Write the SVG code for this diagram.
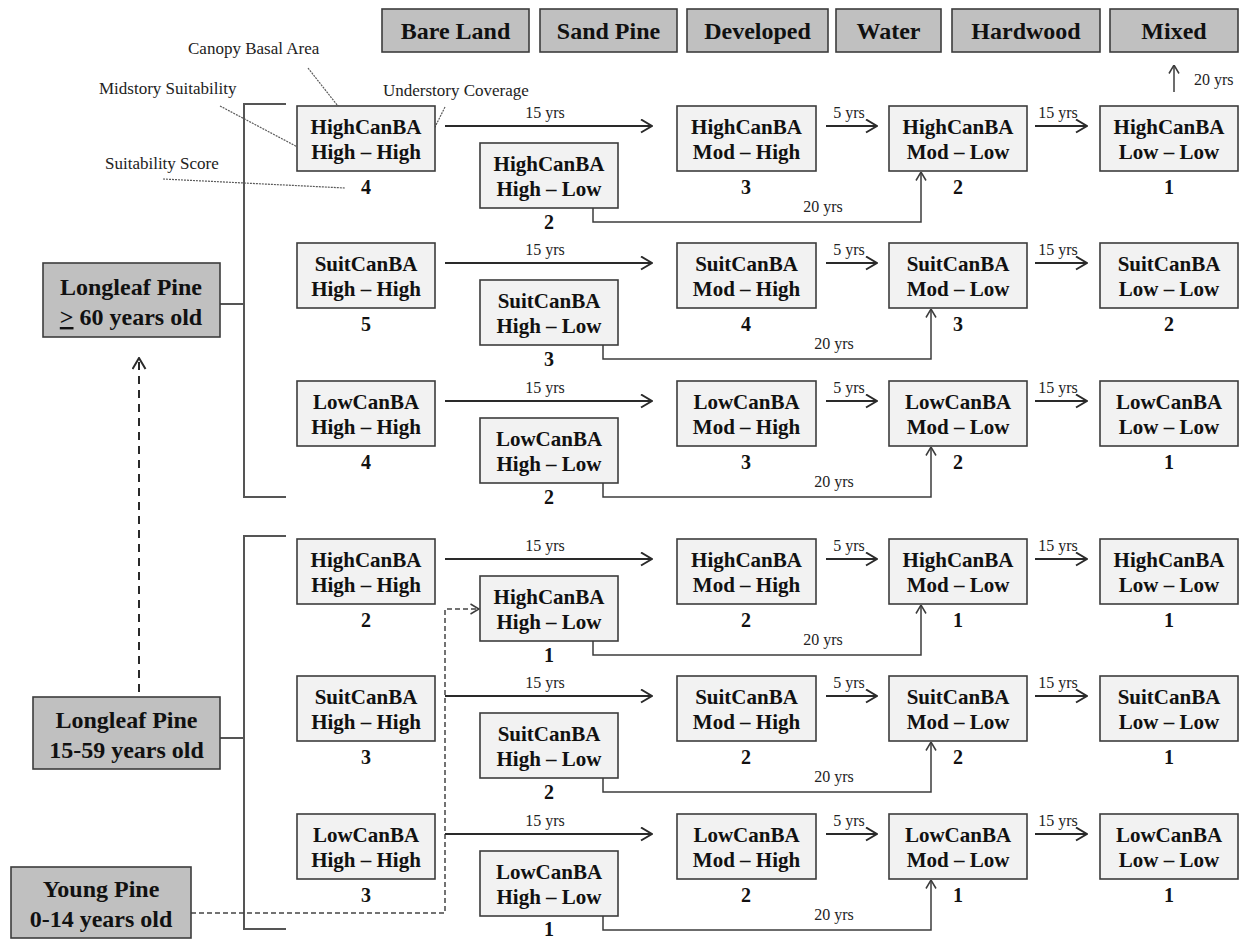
<svg xmlns="http://www.w3.org/2000/svg" width="1244" height="939" viewBox="0 0 1244 939">
<style>
.bg{fill:#ffffff}
.nd rect{fill:#f2f2f2;stroke:#3c3c3c;stroke-width:1.6}
.hd rect{fill:#c0c0c0;stroke:#3c3c3c;stroke-width:1.6}
.nt{font-family:"Liberation Serif","Times New Roman",serif;font-weight:bold;font-size:21px;fill:#111;text-anchor:middle}
.sc{font-family:"Liberation Serif","Times New Roman",serif;font-weight:bold;font-size:20px;fill:#111;text-anchor:middle}
.ht{font-family:"Liberation Serif","Times New Roman",serif;font-weight:bold;font-size:24px;fill:#111;text-anchor:middle}
.el{font-family:"Liberation Serif","Times New Roman",serif;font-size:16px;fill:#222;text-anchor:middle}
.an{font-family:"Liberation Serif","Times New Roman",serif;font-size:17px;fill:#222}
.ar{fill:none;stroke:#2a2a2a;stroke-width:2}
.eb{fill:none;stroke:#3c3c3c;stroke-width:1.5}
.br{fill:none;stroke:#555;stroke-width:2}
.ld{fill:none;stroke:#5a5a5a;stroke-width:1.2;stroke-dasharray:2 1}
.ds{fill:none;stroke:#2a2a2a;stroke-width:2;stroke-dasharray:8 6}
.dt{fill:none;stroke:#444;stroke-width:1.5;stroke-dasharray:5 3}
</style>
<defs>
<marker id="ah" viewBox="0 0 13 15" refX="12" refY="7.5" markerWidth="13" markerHeight="15" markerUnits="userSpaceOnUse" orient="auto"><path d="M1,1 L12,7.5 L1,14" fill="none" stroke="#2a2a2a" stroke-width="2"/></marker>
<marker id="ahs" viewBox="0 0 10 12" refX="9.5" refY="6" markerWidth="10" markerHeight="12" markerUnits="userSpaceOnUse" orient="auto"><path d="M1,1 L9.5,6 L1,11" fill="none" stroke="#3c3c3c" stroke-width="1.5"/></marker>
</defs>
<rect class="bg" x="0" y="0" width="1244" height="939"/>

<g id="headers">
<g id="h-bare" class="hd"><rect x="382" y="9" width="147" height="43"/><text class="ht" x="455.5" y="39">Bare Land</text></g>
<g id="h-sand" class="hd"><rect x="540" y="9" width="137" height="43"/><text class="ht" x="608.5" y="39">Sand Pine</text></g>
<g id="h-dev" class="hd"><rect x="687" y="9" width="141" height="43"/><text class="ht" x="757.5" y="39">Developed</text></g>
<g id="h-water" class="hd"><rect x="836" y="9" width="105" height="43"/><text class="ht" x="888.5" y="39">Water</text></g>
<g id="h-hard" class="hd"><rect x="952" y="9" width="148" height="43"/><text class="ht" x="1026" y="39">Hardwood</text></g>
<g id="h-mixed" class="hd"><rect x="1110" y="9" width="128" height="43"/><text class="ht" x="1174" y="39">Mixed</text></g>
</g>

<g id="annotations">
<text class="an" x="188" y="54">Canopy Basal Area</text>
<text class="an" x="99" y="94">Midstory Suitability</text>
<text class="an" x="383" y="96">Understory Coverage</text>
<text class="an" x="105" y="169">Suitability Score</text>
<path class="ld" d="M308,68 L345,115"/>
<path class="ld" d="M220,106 L307,152"/>
<path class="ld" d="M445,107 L420,157"/>
<path class="ld" d="M163,179 L345,188"/>
</g>

<g id="connectors">
<path class="br" d="M286,104 H244 V497 H286"/>
<path class="br" d="M220,304 H244"/>
<path class="br" d="M286,536 H244 V929 H286"/>
<path class="br" d="M220,738 H244"/>
<path class="ds" d="M139,692 V358" marker-end="url(#ah)"/>
<path class="dt" d="M191,913 H445 V609 H479" marker-end="url(#ahs)"/>
<path class="eb" d="M1174,92 V65" marker-end="url(#ahs)"/>
<text class="an" x="1194" y="85" style="font-size:16px">20 yrs</text>

<g id="r1-arrows">
<path class="ar" d="M445,126 H652" marker-end="url(#ah)"/><text class="el" x="545" y="118">15 yrs</text>
<path class="ar" d="M826,126 H877" marker-end="url(#ah)"/><text class="el" x="849" y="118">5 yrs</text>
<path class="ar" d="M1035,126 H1087" marker-end="url(#ah)"/><text class="el" x="1058" y="118">15 yrs</text>
<path class="eb" d="M593,208 V222 H921 V172" marker-end="url(#ahs)"/><text class="el" x="823" y="212">20 yrs</text>
</g>
<g id="r2-arrows">
<path class="ar" d="M445,263 H652" marker-end="url(#ah)"/><text class="el" x="545" y="255">15 yrs</text>
<path class="ar" d="M826,263 H877" marker-end="url(#ah)"/><text class="el" x="849" y="255">5 yrs</text>
<path class="ar" d="M1035,263 H1087" marker-end="url(#ah)"/><text class="el" x="1058" y="255">15 yrs</text>
<path class="eb" d="M603,345 V359 H931 V309" marker-end="url(#ahs)"/><text class="el" x="834" y="349">20 yrs</text>
</g>
<g id="r3-arrows">
<path class="ar" d="M445,401 H652" marker-end="url(#ah)"/><text class="el" x="545" y="393">15 yrs</text>
<path class="ar" d="M826,401 H877" marker-end="url(#ah)"/><text class="el" x="849" y="393">5 yrs</text>
<path class="ar" d="M1035,401 H1087" marker-end="url(#ah)"/><text class="el" x="1058" y="393">15 yrs</text>
<path class="eb" d="M603,483 V497 H931 V447" marker-end="url(#ahs)"/><text class="el" x="834" y="487">20 yrs</text>
</g>
<g id="r4-arrows">
<path class="ar" d="M445,559 H652" marker-end="url(#ah)"/><text class="el" x="545" y="551">15 yrs</text>
<path class="ar" d="M826,559 H877" marker-end="url(#ah)"/><text class="el" x="849" y="551">5 yrs</text>
<path class="ar" d="M1035,559 H1087" marker-end="url(#ah)"/><text class="el" x="1058" y="551">15 yrs</text>
<path class="eb" d="M593,641 V655 H921 V605" marker-end="url(#ahs)"/><text class="el" x="823" y="645">20 yrs</text>
</g>
<g id="r5-arrows">
<path class="ar" d="M445,696 H652" marker-end="url(#ah)"/><text class="el" x="545" y="688">15 yrs</text>
<path class="ar" d="M826,696 H877" marker-end="url(#ah)"/><text class="el" x="849" y="688">5 yrs</text>
<path class="ar" d="M1035,696 H1087" marker-end="url(#ah)"/><text class="el" x="1058" y="688">15 yrs</text>
<path class="eb" d="M603,778 V792 H931 V742" marker-end="url(#ahs)"/><text class="el" x="834" y="782">20 yrs</text>
</g>
<g id="r6-arrows">
<path class="ar" d="M445,834 H652" marker-end="url(#ah)"/><text class="el" x="545" y="826">15 yrs</text>
<path class="ar" d="M826,834 H877" marker-end="url(#ah)"/><text class="el" x="849" y="826">5 yrs</text>
<path class="ar" d="M1035,834 H1087" marker-end="url(#ah)"/><text class="el" x="1058" y="826">15 yrs</text>
<path class="eb" d="M603,916 V930 H931 V880" marker-end="url(#ahs)"/><text class="el" x="834" y="920">20 yrs</text>
</g>
</g>

<g id="age-classes">
<g id="lp60" class="hd"><rect x="43" y="263" width="177" height="74"/><text class="ht" x="131" y="295">Longleaf Pine</text><text class="ht" x="131" y="325"><tspan text-decoration="underline">&gt;</tspan> 60 years old</text></g>
<g id="lp15" class="hd"><rect x="33" y="697" width="187" height="72"/><text class="ht" x="126.5" y="728">Longleaf Pine</text><text class="ht" x="126.5" y="758">15-59 years old</text></g>
<g id="young" class="hd"><rect x="11" y="867" width="180" height="71"/><text class="ht" x="101" y="897">Young Pine</text><text class="ht" x="101" y="927">0-14 years old</text></g>
</g>

<g id="n1-hh" class="nd"><rect x="297" y="106" width="138" height="65"/><text class="nt" x="366" y="134">HighCanBA</text><text class="nt" x="366" y="159">High – High</text><text class="sc" x="366" y="194">4</text></g>
<g id="n1-hl" class="nd"><rect x="480" y="143" width="138" height="65"/><text class="nt" x="549" y="171">HighCanBA</text><text class="nt" x="549" y="196">High – Low</text><text class="sc" x="549" y="229">2</text></g>
<g id="n1-mh" class="nd"><rect x="677" y="106" width="139" height="65"/><text class="nt" x="746.5" y="134">HighCanBA</text><text class="nt" x="746.5" y="159">Mod – High</text><text class="sc" x="746" y="194">3</text></g>
<g id="n1-ml" class="nd"><rect x="889" y="106" width="138" height="65"/><text class="nt" x="958" y="134">HighCanBA</text><text class="nt" x="958" y="159">Mod – Low</text><text class="sc" x="958" y="194">2</text></g>
<g id="n1-ll" class="nd"><rect x="1100" y="106" width="138" height="65"/><text class="nt" x="1169" y="134">HighCanBA</text><text class="nt" x="1169" y="159">Low – Low</text><text class="sc" x="1169" y="194">1</text></g>

<g id="n2-hh" class="nd"><rect x="297" y="243" width="138" height="65"/><text class="nt" x="366" y="271">SuitCanBA</text><text class="nt" x="366" y="296">High – High</text><text class="sc" x="366" y="331">5</text></g>
<g id="n2-hl" class="nd"><rect x="480" y="280" width="138" height="65"/><text class="nt" x="549" y="308">SuitCanBA</text><text class="nt" x="549" y="333">High – Low</text><text class="sc" x="549" y="366">3</text></g>
<g id="n2-mh" class="nd"><rect x="677" y="243" width="139" height="65"/><text class="nt" x="746.5" y="271">SuitCanBA</text><text class="nt" x="746.5" y="296">Mod – High</text><text class="sc" x="746" y="331">4</text></g>
<g id="n2-ml" class="nd"><rect x="889" y="243" width="138" height="65"/><text class="nt" x="958" y="271">SuitCanBA</text><text class="nt" x="958" y="296">Mod – Low</text><text class="sc" x="958" y="331">3</text></g>
<g id="n2-ll" class="nd"><rect x="1100" y="243" width="138" height="65"/><text class="nt" x="1169" y="271">SuitCanBA</text><text class="nt" x="1169" y="296">Low – Low</text><text class="sc" x="1169" y="331">2</text></g>

<g id="n3-hh" class="nd"><rect x="297" y="381" width="138" height="65"/><text class="nt" x="366" y="409">LowCanBA</text><text class="nt" x="366" y="434">High – High</text><text class="sc" x="366" y="469">4</text></g>
<g id="n3-hl" class="nd"><rect x="480" y="418" width="138" height="65"/><text class="nt" x="549" y="446">LowCanBA</text><text class="nt" x="549" y="471">High – Low</text><text class="sc" x="549" y="504">2</text></g>
<g id="n3-mh" class="nd"><rect x="677" y="381" width="139" height="65"/><text class="nt" x="746.5" y="409">LowCanBA</text><text class="nt" x="746.5" y="434">Mod – High</text><text class="sc" x="746" y="469">3</text></g>
<g id="n3-ml" class="nd"><rect x="889" y="381" width="138" height="65"/><text class="nt" x="958" y="409">LowCanBA</text><text class="nt" x="958" y="434">Mod – Low</text><text class="sc" x="958" y="469">2</text></g>
<g id="n3-ll" class="nd"><rect x="1100" y="381" width="138" height="65"/><text class="nt" x="1169" y="409">LowCanBA</text><text class="nt" x="1169" y="434">Low – Low</text><text class="sc" x="1169" y="469">1</text></g>

<g id="n4-hh" class="nd"><rect x="297" y="539" width="138" height="65"/><text class="nt" x="366" y="567">HighCanBA</text><text class="nt" x="366" y="592">High – High</text><text class="sc" x="366" y="627">2</text></g>
<g id="n4-hl" class="nd"><rect x="480" y="576" width="138" height="65"/><text class="nt" x="549" y="604">HighCanBA</text><text class="nt" x="549" y="629">High – Low</text><text class="sc" x="549" y="662">1</text></g>
<g id="n4-mh" class="nd"><rect x="677" y="539" width="139" height="65"/><text class="nt" x="746.5" y="567">HighCanBA</text><text class="nt" x="746.5" y="592">Mod – High</text><text class="sc" x="746" y="627">2</text></g>
<g id="n4-ml" class="nd"><rect x="889" y="539" width="138" height="65"/><text class="nt" x="958" y="567">HighCanBA</text><text class="nt" x="958" y="592">Mod – Low</text><text class="sc" x="958" y="627">1</text></g>
<g id="n4-ll" class="nd"><rect x="1100" y="539" width="138" height="65"/><text class="nt" x="1169" y="567">HighCanBA</text><text class="nt" x="1169" y="592">Low – Low</text><text class="sc" x="1169" y="627">1</text></g>

<g id="n5-hh" class="nd"><rect x="297" y="676" width="138" height="65"/><text class="nt" x="366" y="704">SuitCanBA</text><text class="nt" x="366" y="729">High – High</text><text class="sc" x="366" y="764">3</text></g>
<g id="n5-hl" class="nd"><rect x="480" y="713" width="138" height="65"/><text class="nt" x="549" y="741">SuitCanBA</text><text class="nt" x="549" y="766">High – Low</text><text class="sc" x="549" y="799">2</text></g>
<g id="n5-mh" class="nd"><rect x="677" y="676" width="139" height="65"/><text class="nt" x="746.5" y="704">SuitCanBA</text><text class="nt" x="746.5" y="729">Mod – High</text><text class="sc" x="746" y="764">2</text></g>
<g id="n5-ml" class="nd"><rect x="889" y="676" width="138" height="65"/><text class="nt" x="958" y="704">SuitCanBA</text><text class="nt" x="958" y="729">Mod – Low</text><text class="sc" x="958" y="764">2</text></g>
<g id="n5-ll" class="nd"><rect x="1100" y="676" width="138" height="65"/><text class="nt" x="1169" y="704">SuitCanBA</text><text class="nt" x="1169" y="729">Low – Low</text><text class="sc" x="1169" y="764">1</text></g>

<g id="n6-hh" class="nd"><rect x="297" y="814" width="138" height="65"/><text class="nt" x="366" y="842">LowCanBA</text><text class="nt" x="366" y="867">High – High</text><text class="sc" x="366" y="902">3</text></g>
<g id="n6-hl" class="nd"><rect x="480" y="851" width="138" height="65"/><text class="nt" x="549" y="879">LowCanBA</text><text class="nt" x="549" y="904">High – Low</text><text class="sc" x="549" y="936">1</text></g>
<g id="n6-mh" class="nd"><rect x="677" y="814" width="139" height="65"/><text class="nt" x="746.5" y="842">LowCanBA</text><text class="nt" x="746.5" y="867">Mod – High</text><text class="sc" x="746" y="902">2</text></g>
<g id="n6-ml" class="nd"><rect x="889" y="814" width="138" height="65"/><text class="nt" x="958" y="842">LowCanBA</text><text class="nt" x="958" y="867">Mod – Low</text><text class="sc" x="958" y="902">1</text></g>
<g id="n6-ll" class="nd"><rect x="1100" y="814" width="138" height="65"/><text class="nt" x="1169" y="842">LowCanBA</text><text class="nt" x="1169" y="867">Low – Low</text><text class="sc" x="1169" y="902">1</text></g>
</svg>
